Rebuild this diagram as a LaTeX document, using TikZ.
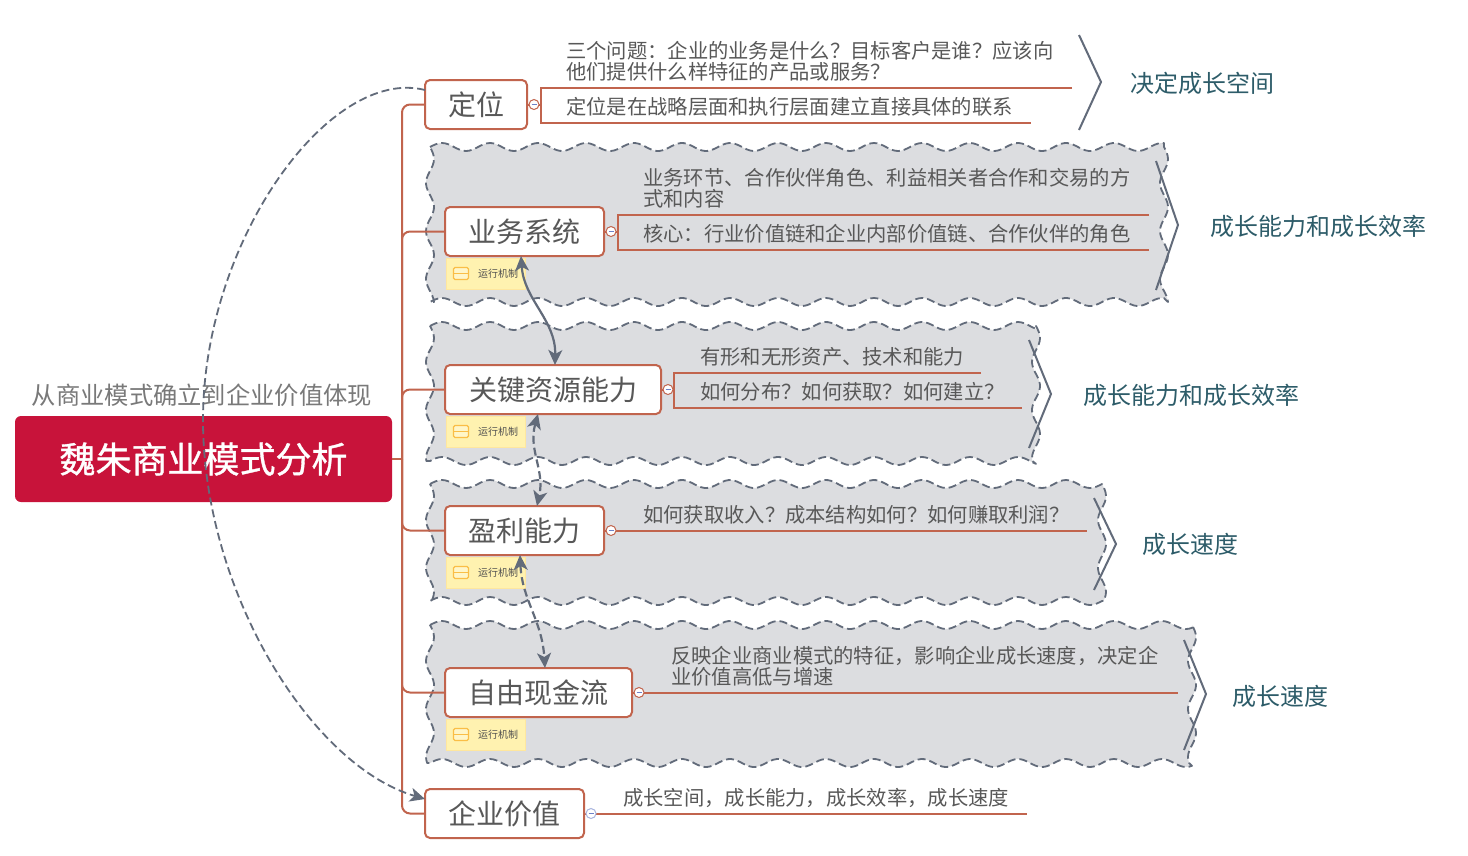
\documentclass[tikz,border=0pt]{standalone}
\usepackage{fontspec}
\setmainfont{Noto Sans CJK SC}
\usetikzlibrary{arrows.meta,calc}
\newcommand{\fwq}{\char"FF1F\relax}
\newcommand{\fwc}{\char"FF0C\relax}
\newcommand{\fwk}{\char"FF1A\relax}
\definecolor{org}{RGB}{193,100,77}
\definecolor{rootred}{RGB}{200,19,58}
\definecolor{cloudfill}{RGB}{220,221,224}
\definecolor{cloudedge}{RGB}{98,107,122}
\definecolor{txt}{RGB}{88,88,88}
\definecolor{teal}{RGB}{45,92,105}
\definecolor{note}{RGB}{255,242,176}
\definecolor{noteicon}{RGB}{250,190,70}
\definecolor{minusblue}{RGB}{110,130,200}
\tikzset{
  x=1pt,y=-1pt,
  cloud/.style={fill=cloudfill,draw=cloudedge,line width=1.8pt,line join=round,dash pattern=on 8pt off 4pt},
  topic/.style={draw=org,fill=white,line width=2pt,rounded corners=5pt,outer sep=0pt,minimum height=49pt,inner sep=0pt,text=txt,font=\fontsize{28}{30}\selectfont,anchor=north west},
  sub/.style={anchor=west,inner sep=0pt,text=txt,align=left,font=\fontsize{20.3}{21}\selectfont},
  side/.style={anchor=west,inner sep=0pt,text=teal,font=\fontsize{24}{26}\selectfont},
  trunk/.style={draw=org,line width=2pt,rounded corners=8pt},
  oline/.style={draw=org,line width=2pt},
  brack/.style={draw=cloudedge,line width=2pt},
  rel/.style={draw=cloudedge,line width=2.2pt,{Stealth[length=15pt,width=14pt,inset=4pt]}-{Stealth[length=15pt,width=14pt,inset=4pt]}},
  reld/.style={rel,dash pattern=on 8pt off 4pt},
  foldc/.style={circle,draw=org,fill=white,line width=1pt,minimum size=10pt,inner sep=0pt},
  notebox/.style={fill=note,draw=note!90!orange,line width=0.6pt,minimum width=79pt,minimum height=31pt,inner sep=0pt,anchor=north west},
  notetxt/.style={inner sep=0pt,text=txt!90!black,font=\fontsize{10}{11}\selectfont},
}
\newcommand{\foldmark}[3][org]{\node[foldc,draw=#1] (#2) at #3 {}; \draw[minusblue,line width=0.9pt] ($(#2)+(-2.5,0)$) -- ($(#2)+(2.5,0)$);}
\newcommand{\noteicon}[1]{\draw[noteicon,fill=note!70!white,line width=1.2pt,rounded corners=1.5pt] ($#1+(-7.5,-6)$) rectangle ($#1+(7.5,6)$); \draw[noteicon,line width=1.2pt] ($#1+(-7.5,0)$) -- ($#1+(7.5,0)$);}
\newcommand{\wavecloud}[4]{%
  \pgfmathtruncatemacro{\nw}{(#3-#1)/3}%
  \pgfmathtruncatemacro{\nh}{(#4-#2)/3}%
  \path[cloud] plot[variable=\t,domain=#1:#3,samples=\nw] (\t,{#2-4*sin(7.5*(\t-#1))})
    -- plot[variable=\t,domain=#2:#4,samples=\nh] ({#3+4*sin(7.5*(\t-#2))},\t)
    -- plot[variable=\t,domain=#3:#1,samples=\nw] (\t,{#4-4*sin(7.5*(\t-#1))})
    -- plot[variable=\t,domain=#4:#2,samples=\nh] ({#1+4*sin(7.5*(\t-#2))},\t) -- cycle;}
\begin{document}
\begin{tikzpicture}
\useasboundingbox (0,0) rectangle (1468,855);
\fill[white] (0,0) rectangle (1468,855);

% clouds
\wavecloud{430}{147}{1164}{302}
\wavecloud{430}{326}{1036}{461}
\wavecloud{430}{484}{1102}{601}
\wavecloud{430}{625}{1192}{763}

% root + label
\node[fill=rootred,rounded corners=6pt,minimum width=377pt,minimum height=86pt,inner sep=0pt,outer sep=0pt,text=white,font=\fontsize{36}{38}\selectfont\addfontfeature{FakeBold=1}] (root) at (203.5,459) {魏朱商业模式分析};
\node[inner sep=0pt,text=txt!80!white,font=\fontsize{24.3}{26}\selectfont] (cap) at (202,395) {从商业模式确立到企业价值体现};

% trunk
\coordinate (tk) at (402,459);
\coordinate (tpos) at (425,104.5);\coordinate (tbiz) at (445,231.5);\coordinate (tres) at (445,389.5);
\coordinate (tpro) at (445,530.5);\coordinate (tcas) at (445,692.5);\coordinate (tval) at (425,813.5);
\draw[oline] (root.east) -- (tk);
\foreach \t in {pos,biz,res,pro,cas,val}{\draw[trunk] (tk) |- (t\t);}

% notes
\foreach \n/\y in {a/258,b/416,c/557,d/719}{
  \node[notebox] (note\n) at (446,\y) {};
  \noteicon{(461,\y+15.5)}
  \node[notetxt] (nt\n) at (498,\y+16) {运行机制};
}

% topics
\node[topic,minimum width=102pt] (pos) at (425,80) {定位};
\node[topic,minimum width=159pt] (biz) at (445,207) {业务系统};
\node[topic,minimum width=216pt] (res) at (445,365) {关键资源能力};
\node[topic,minimum width=159pt] (pro) at (445,506) {盈利能力};
\node[topic,minimum width=187pt] (cas) at (445,668) {自由现金流};
\node[topic,minimum width=159pt] (val) at (425,789) {企业价值};

% pos
\coordinate (p1) at (541,88);\coordinate (p2) at (1072,88);\coordinate (p3) at (541,123);\coordinate (p4) at (1031,123);\coordinate (pm) at (541,104.5);
\draw[oline] (pos.east) -- (pm);
\draw[oline] (p2) -- (p1) -- (p3) -- (p4);
\foldmark{f1}{(534,104.5)}
\node[sub] (t1) at (566,61) {三个问题\fwk 企业的业务是什么\fwq 目标客户是谁\fwq 应该向\\他们提供什么样特征的产品或服务\fwq};
\node[sub] (t2) at (566,107) {定位是在战略层面和执行层面建立直接具体的联系};

% biz
\coordinate (b1) at (618,215);\coordinate (b2) at (1149,215);\coordinate (b3) at (618,250);\coordinate (b4) at (1149,250);\coordinate (bm) at (618,231.5);
\draw[oline] (biz.east) -- (bm);
\draw[oline] (b2) -- (b1) -- (b3) -- (b4);
\foldmark{f2}{(611,231.5)}
\node[sub] (t3) at (643,188.5) {业务环节、合作伙伴角色、利益相关者合作和交易的方\\式和内容};
\node[sub] (t4) at (643,234) {核心\fwk 行业价值链和企业内部价值链、合作伙伴的角色};

% res
\coordinate (r1) at (674,373);\coordinate (r2) at (981,373);\coordinate (r3) at (674,408);\coordinate (r4) at (1022,408);\coordinate (rm) at (674,389.5);
\draw[oline] (res.east) -- (rm);
\draw[oline] (r2) -- (r1) -- (r3) -- (r4);
\foldmark{f3}{(668,389.5)}
\node[sub] (t5) at (700,357) {有形和无形资产、技术和能力};
\node[sub] (t6) at (700,392) {如何分布\fwq 如何获取\fwq 如何建立\fwq};

% pro
\coordinate (q1) at (1087,530.5);
\draw[oline] (pro.east) -- (q1);
\foldmark{f4}{(611,530.5)}
\node[sub] (t7) at (643,515) {如何获取收入\fwq 成本结构如何\fwq 如何赚取利润\fwq};

% cas
\coordinate (c1) at (1178,692.5);
\draw[oline] (cas.east) -- (c1);
\foldmark{f5}{(639,692.5)}
\node[sub] (t8) at (671,666.5) {反映企业商业模式的特征\fwc 影响企业成长速度\fwc 决定企\\业价值高低与增速};

% val
\coordinate (v1) at (1027,813.5);
\draw[oline] (val.east) -- (v1);
\foldmark[minusblue!60!white]{f6}{(591,813.5)}
\node[sub] (t9) at (623,798) {成长空间\fwc 成长能力\fwc 成长效率\fwc 成长速度};

% brackets
\coordinate (k1a) at (1079,35);\coordinate (k1b) at (1101,82);\coordinate (k1c) at (1079,130);
\coordinate (k2a) at (1156,161);\coordinate (k2b) at (1178,225);\coordinate (k2c) at (1156,290);
\coordinate (k3a) at (1029,340);\coordinate (k3b) at (1051,394);\coordinate (k3c) at (1029,448);
\coordinate (k4a) at (1094,498);\coordinate (k4b) at (1116,544);\coordinate (k4c) at (1094,590);
\coordinate (k5a) at (1184,640);\coordinate (k5b) at (1206,694);\coordinate (k5c) at (1184,750);
\foreach \k in {k1,k2,k3,k4,k5}{\draw[brack] (\k a) -- (\k b) -- (\k c);}

\node[side] (s1) at (1130,83) {决定成长空间};
\node[side] (s2) at (1210,226) {成长能力和成长效率};
\node[side] (s3) at (1083,395) {成长能力和成长效率};
\node[side] (s4) at (1142,544) {成长速度};
\node[side] (s5) at (1232,696) {成长速度};

% relationships
\coordinate (ra) at (521,256);\coordinate (rb) at (555,365);
\coordinate (rc) at (538,414);\coordinate (rd) at (537,506);
\coordinate (re) at (520,555);\coordinate (rf) at (545,668);
\coordinate (rg) at (425,90);\coordinate (rh) at (425,799);
\draw[rel] (ra) .. controls (524,300) and (556,320) .. (rb);
\draw[reld] (rc) .. controls (528,450) and (545,470) .. (rd);
\draw[reld] (re) .. controls (522,600) and (542,620) .. (rf);
\draw[draw=cloudedge,line width=1.8pt,dash pattern=on 8pt off 4pt,-{Stealth[length=15pt,width=14pt,inset=4pt]}] (rg) .. controls (330,66) and (203,240) .. (203,420) .. controls (203,590) and (310,765) .. (rh);
\end{tikzpicture}
\end{document}
